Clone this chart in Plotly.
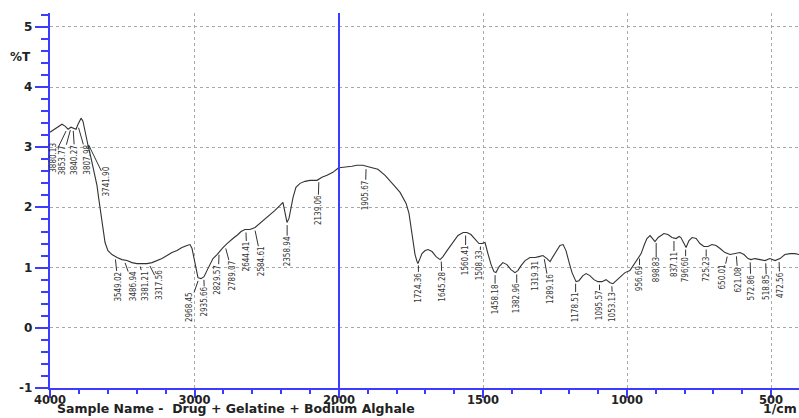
import numpy as np
import plotly.graph_objects as go

# FTIR spectrum, %T against wavenumber (1/cm), 4000 -> 400
wavenumber = [
    4000, 3979, 3945, 3917, 3896, 3875, 3855, 3834, 3820, 3806, 3785, 3772, 3758, 3737,
    3716, 3696, 3675, 3661, 3647, 3633, 3619, 3599, 3571, 3536, 3502, 3467, 3433, 3398,
    3363, 3329, 3294, 3260, 3225, 3190, 3156, 3121, 3087, 3052, 3031, 3017, 3004, 2990,
    2976, 2955, 2934, 2914, 2893, 2872, 2844, 2824, 2803, 2775, 2754, 2734, 2699, 2678,
    2651, 2616, 2581, 2547, 2512, 2478, 2443, 2408, 2388, 2374, 2360, 2346, 2332, 2318,
    2298, 2270, 2235, 2201, 2152, 2118, 2083, 2042, 2007, 2000,
    1979, 1955, 1938, 1917, 1892, 1865, 1840, 1823, 1806, 1788, 1778, 1767, 1757, 1750,
    1743, 1736, 1729, 1726, 1719, 1712, 1701, 1691, 1677, 1663, 1649, 1639, 1625, 1608,
    1587, 1569, 1556, 1542, 1528, 1514, 1503, 1493, 1483, 1472, 1462, 1455, 1444, 1431,
    1417, 1403, 1389, 1379, 1368, 1354, 1337, 1319, 1306, 1292, 1278, 1267, 1257, 1243,
    1233, 1222, 1212, 1201, 1191, 1177, 1167, 1153, 1142, 1129, 1115, 1101, 1087, 1073,
    1059, 1049, 1038, 1024, 1007, 990, 976, 965, 951, 941, 931, 920, 910, 903, 892, 882,
    872, 858, 844, 830, 819, 813, 802, 795, 785, 774, 760, 747, 733, 719, 705, 691, 677,
    660, 642, 625, 608, 594, 580, 570, 556, 538, 521, 504, 486, 469, 452, 434, 417, 403,
]
transmittance = [
    3.25, 3.283, 3.333, 3.383, 3.35, 3.30, 3.333, 3.317, 3.30, 3.383, 3.483, 3.433, 3.25, 3.033,
    2.817, 2.617, 2.367, 2.117, 1.867, 1.617, 1.417, 1.283, 1.217, 1.167, 1.133, 1.117, 1.083, 1.067,
    1.067, 1.067, 1.083, 1.117, 1.15, 1.20, 1.25, 1.283, 1.333, 1.367, 1.383, 1.317, 1.15, 0.983,
    0.833, 0.817, 0.85, 0.95, 1.05, 1.15, 1.217, 1.283, 1.333, 1.40, 1.45, 1.483, 1.55, 1.60,
    1.633, 1.633, 1.667, 1.733, 1.80, 1.867, 1.95, 2.033, 2.083, 1.917, 1.75, 1.817, 1.983, 2.167,
    2.333, 2.40, 2.433, 2.45, 2.45, 2.50, 2.533, 2.583, 2.65, 2.66,
    2.667, 2.683, 2.70, 2.70, 2.667, 2.633, 2.533, 2.45, 2.35, 2.25, 2.167, 2.067, 1.90, 1.65,
    1.40, 1.217, 1.10, 1.067, 1.15, 1.233, 1.283, 1.30, 1.267, 1.183, 1.133, 1.183, 1.283, 1.40,
    1.533, 1.583, 1.583, 1.55, 1.483, 1.40, 1.40, 1.417, 1.233, 1.05, 0.933, 0.917, 1.017, 1.083,
    1.05, 0.967, 0.917, 0.95, 1.033, 1.117, 1.167, 1.167, 1.183, 1.20, 1.15, 1.10, 1.183, 1.30,
    1.367, 1.383, 1.283, 1.083, 0.917, 0.767, 0.783, 0.867, 0.90, 0.867, 0.80, 0.767, 0.767, 0.80,
    0.75, 0.733, 0.783, 0.85, 0.917, 0.95, 1.05, 1.15, 1.233, 1.367, 1.483, 1.533, 1.483, 1.433, 1.50, 1.533,
    1.567, 1.55, 1.50, 1.483, 1.517, 1.50, 1.40, 1.333, 1.45, 1.50, 1.483, 1.40, 1.35, 1.35, 1.383, 1.367, 1.317,
    1.25, 1.217, 1.233, 1.25, 1.217, 1.15, 1.133, 1.15, 1.133, 1.117, 1.15, 1.117, 1.15, 1.217, 1.233, 1.233, 1.217,
]

# y-axis tick values and their labels
y_ticks = [-1, 0, 1, 2, 3, 4, 5]
y_tick_text = ["-1", "0", "1", "2", "3", "4", "5"]

# Peak picks (1/cm)
peak_labels = [
    "3880.13", "3853.77", "3840.27", "3807.98", "3741.90", "3549.02", "3486.94", "3381.21",
    "3317.56", "2968.45", "2935.66", "2829.57", "2789.07", "2644.41", "2584.61", "2358.94",
    "2139.06", "1905.67", "1724.36", "1645.28", "1560.41", "1508.33", "1458.18", "1382.96",
    "1319.31", "1289.16", "1178.51", "1095.57", "1053.13", "956.69", "898.83", "837.11",
    "796.60", "725.23", "650.01", "621.08", "572.86", "518.85", "472.56",
]
# pixel offsets of each peak label from its peak (layout only)
label_dx = [-14, -9, 2, 10, 19, 3, 9, 6, 11, -10, 1, -1, 8, 1, 7, 0, -1, -1, 0, 1, 0, -1, 0, 0,
            0, 6, 0, 0, 1, 0, 0, 0, 0, 0, -5, 2, 1, 1, 1]
label_dy = [29, 33, 32, 35, 39, 30, 26, 22, 22, 29, 25, 28, 30, 27, 34, 29, 31, 29, 25, 28, 28, 22,
            27, 27, 18, 33, 27, 24, 24, 23, 30, 26, 23, 23, 23, 26, 28, 27, 26]

AXIS_BLUE = "#3c3cff"
GRID = "#a8a8a8"
INK = "#333333"
TICK_FONT = dict(family="DejaVu Sans", size=12, color="#222222", weight="bold")

wn = np.array(wavenumber, dtype=float)
tr = np.array(transmittance, dtype=float)
hi = wn >= 2000
lo = wn <= 2000

fig = go.Figure()
fig.add_trace(go.Scatter(x=wn[hi], y=tr[hi], xaxis="x", yaxis="y", mode="lines",
                         line=dict(color=INK, width=1.1), showlegend=False, hoverinfo="skip"))
fig.add_trace(go.Scatter(x=wn[lo], y=tr[lo], xaxis="x2", yaxis="y", mode="lines",
                         line=dict(color=INK, width=1.1), showlegend=False, hoverinfo="skip"))

# high-wavenumber half is drawn at half the scale of the low half
split = 289 / 749

xcommon = dict(
    ticks="outside", ticklen=8, tickwidth=1.5, tickcolor=AXIS_BLUE,
    showline=True, linecolor=AXIS_BLUE, linewidth=2,
    showgrid=True, gridcolor=GRID, griddash="dot", gridwidth=1,
    zeroline=False, tickfont=dict(TICK_FONT, size=11.5), ticklabelstandoff=-8, anchor="y",
)

fig.update_layout(
    width=799, height=418,
    margin=dict(l=50, r=0, t=13, b=30),
    paper_bgcolor="white", plot_bgcolor="white",
    xaxis=dict(domain=[0, split], range=[4000, 2000],
               tickmode="array", tickvals=[4000, 3000], ticktext=["4000", "3000"],
               minor=dict(tickmode="linear", tick0=0, dtick=200, ticks="outside",
                          ticklen=4, tickwidth=1.5, tickcolor=AXIS_BLUE, showgrid=False),
               **xcommon),
    xaxis2=dict(domain=[split, 1], range=[2000, 403],
                tickmode="array", tickvals=[2000, 1500, 1000, 500],
                ticktext=["2000", "1500", "1000", "500"],
                minor=dict(tickmode="linear", tick0=0, dtick=100, ticks="outside",
                           ticklen=4, tickwidth=1.5, tickcolor=AXIS_BLUE, showgrid=False),
                **xcommon),
    yaxis=dict(range=[-1, 5.23], anchor="x",
               tickmode="array", tickvals=y_ticks, showticklabels=False,
               ticks="outside", ticklen=13, tickwidth=1.5, tickcolor=AXIS_BLUE,
               showline=True, linecolor=AXIS_BLUE, linewidth=2,
               showgrid=True, gridcolor=GRID, griddash="dot", gridwidth=1,
               zeroline=False,
               minor=dict(tickmode="linear", tick0=0, dtick=0.2, ticks="outside",
                          ticklen=7, tickwidth=1.5, tickcolor=AXIS_BLUE, showgrid=False)),
)

# y tick labels, right-aligned just left of the tick marks
for v, t in zip(y_ticks, y_tick_text):
    fig.add_annotation(xref="paper", yref="y", x=-16 / 749, y=v, xanchor="right",
                       yanchor="middle", text=t, showarrow=False, font=TICK_FONT)

# scale-change marker at 2000 1/cm (boundary of the two panels)
fig.add_shape(type="line", xref="paper", yref="paper", x0=split, x1=split, y0=0, y1=1,
              line=dict(color=AXIS_BLUE, width=2), layer="above")

# peak labels with leader lines
order = np.argsort(wn)
for text, dx, dy in zip(peak_labels, label_dx, label_dy):
    w = float(text)
    yv = float(np.interp(w, wn[order], tr[order]))
    fig.add_annotation(
        x=w, y=yv, xref="x" if w >= 2000 else "x2", yref="y",
        text=text, textangle=-90, showarrow=True, arrowhead=0, arrowwidth=1,
        arrowcolor=INK, standoff=3, ax=dx, ay=dy, borderpad=0,
        font=dict(family="Liberation Sans Narrow, DejaVu Sans Condensed, sans-serif",
                  size=8, color="#333333"),
    )

fig.add_annotation(xref="paper", yref="paper", x=-42 / 749, y=1 - (57 - 13) / 375,
                   xanchor="left", yanchor="middle", text="%T", showarrow=False,
                   font=TICK_FONT)
fig.add_annotation(xref="paper", yref="paper", x=5 / 749, y=-30 / 375,
                   xanchor="left", yanchor="bottom",
                   text="Sample Name -  Drug + Gelatine + Bodium Alghale", showarrow=False,
                   font=dict(TICK_FONT, size=12.5))
fig.add_annotation(xref="paper", yref="paper", x=1, y=-30 / 375,
                   xanchor="right", yanchor="bottom", text="1/cm", showarrow=False,
                   font=dict(TICK_FONT, size=12.5))

fig.write_html("out.html")
